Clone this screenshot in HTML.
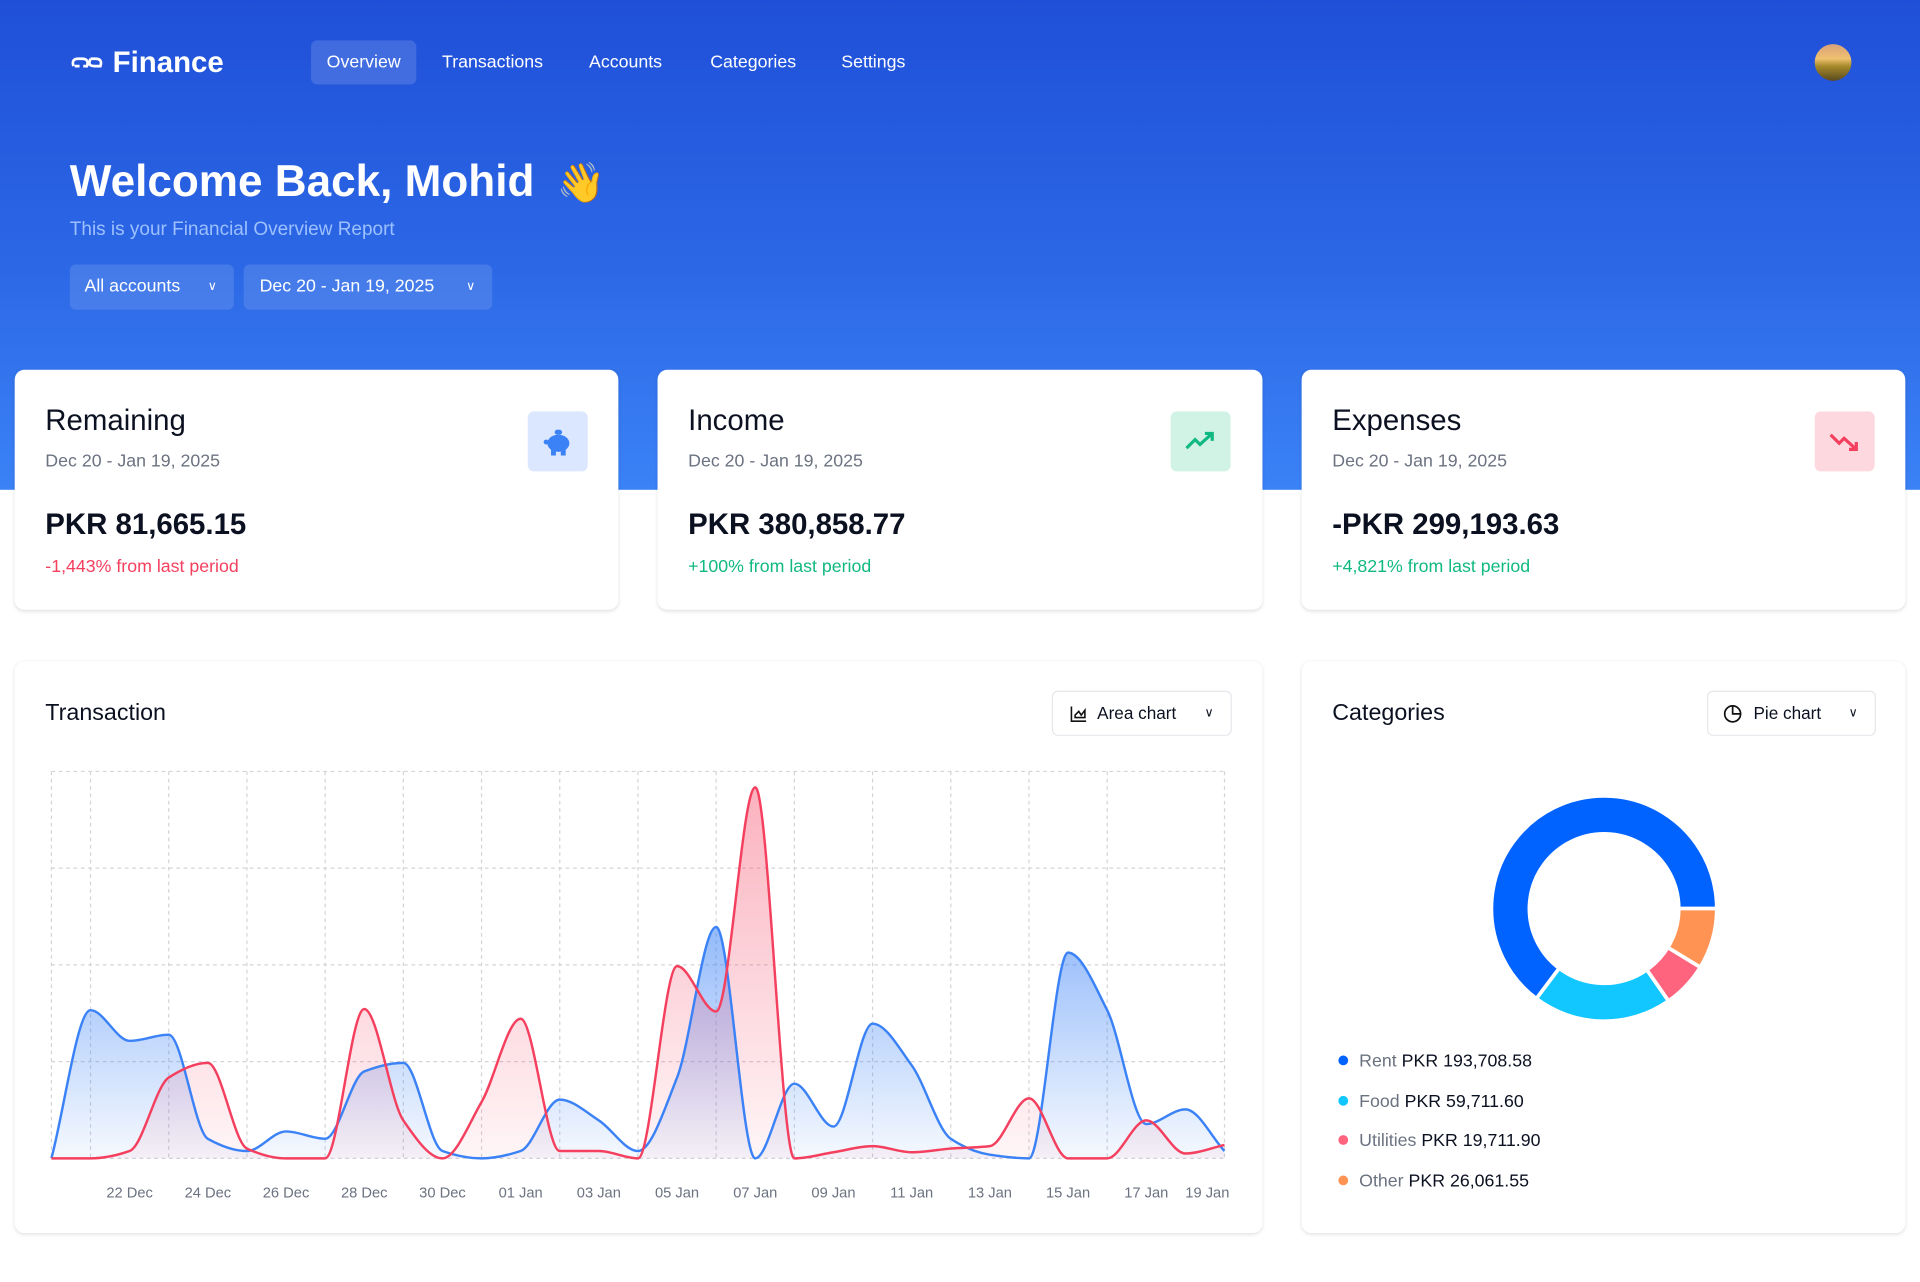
<!DOCTYPE html>
<html><head><meta charset="utf-8">
<style>
html,body{margin:0;padding:0;width:1920px;height:1282px;overflow:hidden;background:#fff;}
#w{position:absolute;left:0;top:0;width:1568px;height:1047px;transform:scale(1.22449);transform-origin:0 0;font-family:"Liberation Sans",sans-serif;color:#0b1120;}
.hdr{position:absolute;left:0;top:0;width:1568px;height:400px;background:linear-gradient(180deg,#1f4fd8 0%,#2c68e6 55%,#3b82f6 100%);}
.abs{position:absolute;}
.nav{position:absolute;top:33px;height:36px;line-height:36px;color:#fff;font-size:14.5px;}
.btn{position:absolute;top:216px;height:37px;line-height:37px;background:rgba(255,255,255,0.12);border-radius:5px;color:#fff;font-size:14.5px;}
.card{position:absolute;background:#fff;border-radius:8px;box-shadow:0 1px 3px rgba(0,0,0,0.12);}
.ct{position:absolute;left:25px;top:28px;font-size:24px;}
.cd{position:absolute;left:25px;top:67px;font-size:14.5px;color:#6b7280;}
.ca{position:absolute;left:25px;top:113px;font-size:24px;font-weight:bold;}
.cc{position:absolute;left:25px;top:153px;font-size:14.5px;}
.ic{position:absolute;left:419px;top:34px;width:49px;height:49px;border-radius:5px;}
.sel{position:absolute;height:35px;line-height:35px;border:1px solid #e5e7eb;border-radius:5px;font-size:14px;background:#fff;}
.lg{position:absolute;left:30px;font-size:14.5px;}
.lg i{display:inline-block;width:8px;height:8px;border-radius:50%;margin-right:9px;vertical-align:1px;}
.lg span{color:#6b7280;}
</style></head><body><div id="w">
<div class="hdr"></div>
<div class="abs" style="left:57px;top:37px;color:#fff;font-size:24px;font-weight:bold;line-height:30px;">
<svg width="29" height="14" viewBox="0 0 29 14" style="vertical-align:1px;margin-right:6px"><path d="M3 10 Q1 4 7 4 L10 4 M8 10 L4 10 M10 4 Q16 4 14 10 L11 10 M17 4 L21 4 Q27 4 25 10 L20 10 Q14 10 17 4" fill="none" stroke="#fff" stroke-width="2.2"/></svg>Finance</div>
<div class="nav" style="left:254px;width:86px;background:rgba(255,255,255,0.14);border-radius:5px;text-align:center;">Overview</div>
<div class="nav" style="left:361px">Transactions</div>
<div class="nav" style="left:481px">Accounts</div>
<div class="nav" style="left:580px">Categories</div>
<div class="nav" style="left:687px">Settings</div>
<div class="abs" style="left:1482px;top:36px;width:30px;height:30px;border-radius:50%;background:linear-gradient(180deg,#d8a27a 0%,#f0c070 40%,#a68a2a 60%,#5a4a20 100%);"></div>
<div class="abs" style="left:57px;top:125px;color:#fff;font-size:36px;font-weight:bold;line-height:46px;">Welcome Back, Mohid <span style="font-size:32px;margin-left:8px">👋</span></div>
<div class="abs" style="left:57px;top:179px;color:#9cc0ff;font-size:15.5px;">This is your Financial Overview Report</div>
<div class="btn" style="left:57px;width:134px;"><span style="margin-left:12px">All accounts</span><span style="position:absolute;right:14px;font-size:10px">&#8744;</span></div>
<div class="btn" style="left:199px;width:203px;"><span style="margin-left:13px">Dec 20 - Jan 19, 2025</span><span style="position:absolute;right:14px;font-size:10px">&#8744;</span></div>

<div class="card" style="left:12px;top:302px;width:493px;height:196px;">
<div class="ct">Remaining</div><div class="cd">Dec 20 - Jan 19, 2025</div><div class="ca">PKR 81,665.15</div><div class="cc" style="color:#f43f5e">-1,443% from last period</div>
<div class="ic" style="background:#dbe7fe;"><svg width="49" height="49"><ellipse cx="25" cy="26" rx="9" ry="7" fill="#3b82f6"/><rect x="19" y="30" width="4" height="6" fill="#3b82f6"/><rect x="27" y="30" width="4" height="6" fill="#3b82f6"/><rect x="22" y="15" width="6" height="4" rx="2" fill="#3b82f6"/><circle cx="15" cy="25" r="2" fill="#3b82f6"/></svg></div></div>
<div class="card" style="left:537px;top:302px;width:494px;height:196px;">
<div class="ct">Income</div><div class="cd">Dec 20 - Jan 19, 2025</div><div class="ca">PKR 380,858.77</div><div class="cc" style="color:#10b981">+100% from last period</div>
<div class="ic" style="background:#d1f3e5;"><svg width="49" height="49"><path d="M13 30 L20 23 L24 27 L34 18 M28 18 L34 18 L34 24" fill="none" stroke="#10b981" stroke-width="2.6"/></svg></div></div>
<div class="card" style="left:1063px;top:302px;width:493px;height:196px;">
<div class="ct">Expenses</div><div class="cd">Dec 20 - Jan 19, 2025</div><div class="ca">-PKR 299,193.63</div><div class="cc" style="color:#10b981">+4,821% from last period</div>
<div class="ic" style="background:#fdd9df;"><svg width="49" height="49"><path d="M13 19 L20 26 L24 22 L34 31 M28 31 L34 31 L34 25" fill="none" stroke="#f43f5e" stroke-width="2.6"/></svg></div></div>

<div class="card" style="left:12px;top:540px;width:1019px;height:467px;">
<div class="abs" style="left:25px;top:32px;font-size:19px;">Transaction</div>
<div class="sel" style="left:847px;top:24px;width:145px;"><svg width="14" height="14" style="position:absolute;left:14px;top:11px"><path d="M1 1 V13 H13 M4 10 V8 L7 5 L9 8 L12 4 V10 Z" fill="none" stroke="#111" stroke-width="1.3"/></svg><span style="margin-left:36px">Area chart</span><span style="position:absolute;right:14px;font-size:10px">&#8744;</span></div>
</div>
<div class="card" style="left:1063px;top:540px;width:493px;height:467px;">
<div class="abs" style="left:25px;top:32px;font-size:19px;">Categories</div>
<div class="sel" style="left:331px;top:24px;width:136px;"><svg width="16" height="16" style="position:absolute;left:12px;top:10px"><circle cx="8" cy="8" r="6.5" fill="none" stroke="#111" stroke-width="1.4"/><path d="M8 1.5 V8 H14.5" fill="none" stroke="#111" stroke-width="1.4"/></svg><span style="margin-left:37px">Pie chart</span><span style="position:absolute;right:14px;font-size:10px">&#8744;</span></div>
<div class="lg" style="top:319px"><i style="background:#0062ff"></i><span>Rent</span> PKR 193,708.58</div>
<div class="lg" style="top:352px"><i style="background:#12c6ff"></i><span>Food</span> PKR 59,711.60</div>
<div class="lg" style="top:384px"><i style="background:#ff647f"></i><span>Utilities</span> PKR 19,711.90</div>
<div class="lg" style="top:417px"><i style="background:#ff9354"></i><span>Other</span> PKR 26,061.55</div>
</div>
<svg id="ch" class="abs" style="left:0;top:0" width="1568" height="1047">
<defs>
<linearGradient id="gb" x1="0" y1="0" x2="0" y2="1"><stop offset="0" stop-color="#3b82f6" stop-opacity="0.55"/><stop offset="0.6" stop-color="#3b82f6" stop-opacity="0.25"/><stop offset="1" stop-color="#3b82f6" stop-opacity="0.05"/></linearGradient>
<linearGradient id="gr" x1="0" y1="0" x2="0" y2="1"><stop offset="0" stop-color="#f43f5e" stop-opacity="0.4"/><stop offset="1" stop-color="#f43f5e" stop-opacity="0.05"/></linearGradient>
</defs>
<g id="grid" stroke="#d4d4d8" stroke-dasharray="3 3" stroke-width="1" fill="none"></g>
<g id="series"></g>
<g id="lab" font-size="12" fill="#6b7280" text-anchor="middle" font-family="Liberation Sans,sans-serif"></g>
<g id="pie"></g>
</svg>
</div>
<script>
var ns="http://www.w3.org/2000/svg";
function el(t,a,p){var e=document.createElementNS(ns,t);for(var k in a)e.setAttribute(k,a[k]);p.appendChild(e);return e;}
var x0=42,x1=1000,y0=630,y1=946,dw=(x1-x0)/30;
var g=document.getElementById('grid');
[630,709,788,867,946].forEach(function(y){el('line',{x1:x0,x2:x1,y1:y,y2:y},g);});
el('line',{x1:x0,x2:x0,y1:y0,y2:y1},g);el('line',{x1:x1,x2:x1,y1:y0,y2:y1},g);
for(var k=0;k<14;k++){var x=x0+dw*(1+2*k);el('line',{x1:x,x2:x,y1:y0,y2:y1},g);}
var lab=document.getElementById('lab');
var names=['22 Dec','24 Dec','26 Dec','28 Dec','30 Dec','01 Jan','03 Jan','05 Jan','07 Jan','09 Jan','11 Jan','13 Jan','15 Jan','17 Jan'];
names.forEach(function(n,i){var t=el('text',{x:x0+dw*(2+2*i),y:978},lab);t.textContent=n;});
var t=el('text',{x:986,y:978},lab);t.textContent='19 Jan';
var blue=[946,825,850,845,930,940,924,930,875,868,940,946,940,898,915,940,880,757,946,885,920,836,870,930,943,946,778,825,918,906,940];
var red=[946,946,940,880,868,938,946,946,824,915,946,900,832,940,940,946,789,826,643,946,941,936,941,938,936,897,946,946,915,942,935];
function mono(ys){var n=ys.length,xs=[],i;for(i=0;i<n;i++)xs.push(x0+dw*i);
var d=[],m=[];for(i=0;i<n-1;i++)d.push((ys[i+1]-ys[i])/dw);
m[0]=d[0];m[n-1]=d[n-2];for(i=1;i<n-1;i++){m[i]=(d[i-1]*d[i]<=0)?0:2/(1/d[i-1]+1/d[i]);}
var p='M'+xs[0]+','+ys[0];for(i=0;i<n-1;i++){var h=dw/3;p+=' C'+(xs[i]+h)+','+(ys[i]+m[i]*h)+' '+(xs[i+1]-h)+','+(ys[i+1]-m[i+1]*h)+' '+xs[i+1]+','+ys[i+1];}return p;}
var s=document.getElementById('series');
var pb=mono(blue),pr=mono(red);
el('path',{d:pb+' L'+x1+','+y1+' L'+x0+','+y1+' Z',fill:'url(#gb)'},s);
el('path',{d:pr+' L'+x1+','+y1+' L'+x0+','+y1+' Z',fill:'url(#gr)'},s);
el('path',{d:pb,fill:'none',stroke:'#3b82f6','stroke-width':2},s);
el('path',{d:pr,fill:'none',stroke:'#f43f5e','stroke-width':2},s);
var pie=document.getElementById('pie');var cx=1310,cy=742,R=92,r=61;
var vals=[193708.58,59711.60,19711.90,26061.55],cols=['#0062ff','#12c6ff','#ff647f','#ff9354'],tot=0;vals.forEach(function(v){tot+=v;});
var a=0;vals.forEach(function(v,i){var b=a+v/tot*2*Math.PI;
function P(rr,ang){return (cx+rr*Math.cos(ang)).toFixed(2)+','+(cy-rr*Math.sin(ang)).toFixed(2);}
var lg=(b-a)>Math.PI?1:0;
el('path',{d:'M'+P(R,a)+' A'+R+','+R+' 0 '+lg+' 0 '+P(R,b)+' L'+P(r,b)+' A'+r+','+r+' 0 '+lg+' 1 '+P(r,a)+' Z',fill:cols[i],stroke:'#fff','stroke-width':3},pie);a=b;});
</script>
</body></html>
